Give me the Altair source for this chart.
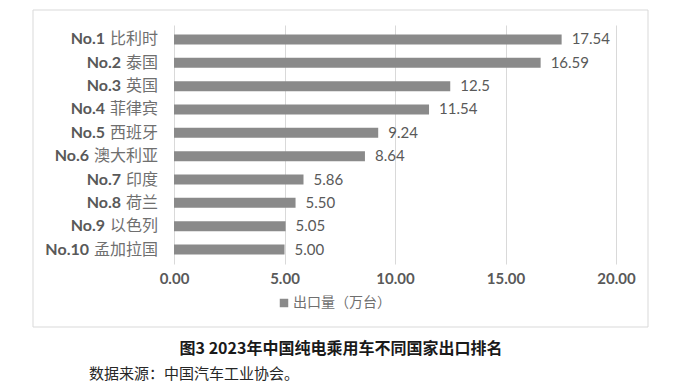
import altair as alt
import pandas as pd

ranks = ["No.1", "No.2", "No.3", "No.4", "No.5", "No.6", "No.7", "No.8", "No.9", "No.10"]
countries = ["比利时", "泰国", "英国", "菲律宾", "西班牙", "澳大利亚", "印度", "荷兰", "以色列", "孟加拉国"]
values = [17.54, 16.59, 12.5, 11.54, 9.24, 8.64, 5.86, 5.50, 5.05, 5.00]
value_labels = ["17.54", "16.59", "12.5", "11.54", "9.24", "8.64", "5.86", "5.50", "5.05", "5.00"]
x_ticks = [0, 5, 10, 15, 20]
series_name = "出口量（万台）"
title_text = "图3  2023年中国纯电乘用车不同国家出口排名"
source_text = "数据来源：中国汽车工业协会。"

GRAY_TXT = "#595959"
LIGHT_TXT = "#6f6f6f"
BAR = "#8a8a8a"
GRID = "#d9d9d9"

df = pd.DataFrame({"rank": ranks, "country": countries, "value": values, "vlabel": value_labels})
df["key"] = df["rank"] + " " + df["country"]
df["series"] = series_name

y = alt.Y("key:N", sort=None, scale=alt.Scale(paddingInner=0, paddingOuter=0.12), axis=None)
base = alt.Chart(df).encode(y=y)

bars = base.mark_bar(size=10).encode(
    x=alt.X(
        "value:Q",
        scale=alt.Scale(domain=[0, 20]),
        axis=alt.Axis(
            values=x_ticks, format=".2f", grid=True, gridColor=GRID, domain=False, ticks=False,
            labelFont="Lato", labelFontSize=15, labelFontWeight="bold", labelColor=GRAY_TXT,
            labelPadding=7, labelFlush=False, title=None,
        ),
    ),
    color=alt.Color(
        "series:N",
        scale=alt.Scale(range=[BAR]),
        legend=alt.Legend(
            orient="none", legendX=103, legendY=271, title=None, symbolType="square",
            symbolSize=72, symbolStrokeWidth=0, labelOffset=2, labelFont="Noto Sans CJK SC",
            labelFontSize=14, labelColor=LIGHT_TXT,
        ),
    ),
)

vals = base.mark_text(align="left", baseline="middle", dx=10, font="Lato", fontSize=15, color=GRAY_TXT).encode(
    x="value:Q", text="vlabel:N"
)

names = base.mark_text(align="right", baseline="middle", font="Noto Sans CJK SC", fontSize=16, color=LIGHT_TXT).encode(
    x=alt.value(-16), text="country:N"
)

rank_txt = base.mark_text(
    align="right", baseline="middle", font="Lato", fontSize=16, fontWeight="bold", color=GRAY_TXT,
    dx=alt.ExprRef(expr="-5-16*length(datum.country)"),
).encode(x=alt.value(-16), text="rank:N")

one = pd.DataFrame({"t": [title_text], "s": [source_text]})

border = alt.Chart(one).mark_rect(filled=False, color=GRID, strokeWidth=1).encode(
    x=alt.value(-141), x2=alt.value(474), y=alt.value(-15), y2=alt.value(302)
)

title = alt.Chart(one).mark_text(
    align="center", baseline="middle", font="Noto Sans CJK SC", fontSize=16, fontWeight="bold", color="#1a1a1a"
).encode(x=alt.value(167), y=alt.value(324), text="t:N")

source = alt.Chart(one).mark_text(
    align="left", baseline="middle", font="Noto Sans CJK SC", fontSize=15, color="#262626"
).encode(x=alt.value(-85), y=alt.value(349), text="s:N")

chart = alt.layer(border, bars, vals, names, rank_txt, title, source).properties(
    width=442, height=239, padding={"left": 24, "top": 1, "right": 0, "bottom": 0}
).configure_view(stroke=None)

chart.save("out.html", embed_options={"renderer": "svg", "actions": False})
